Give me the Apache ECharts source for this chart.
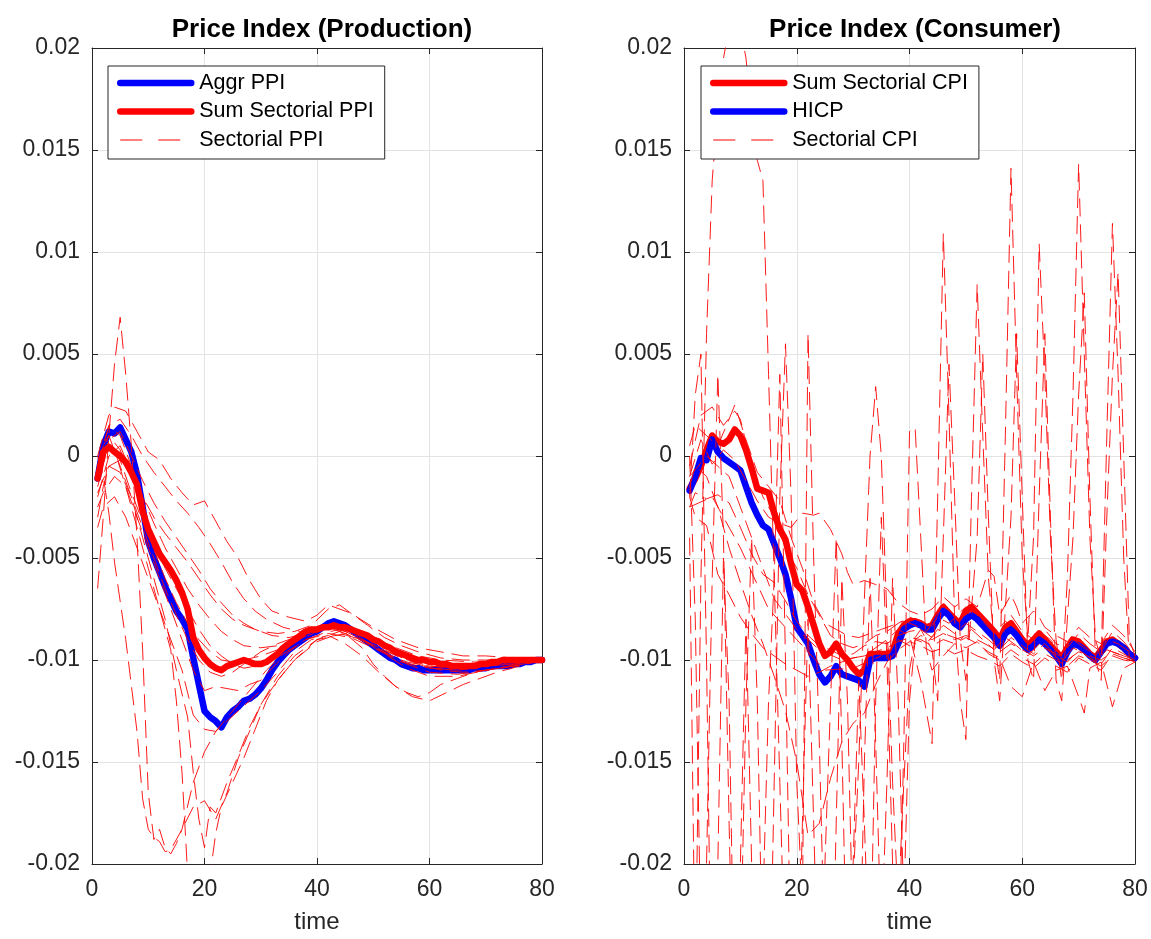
<!DOCTYPE html>
<html>
<head>
<meta charset="utf-8">
<script src="https://cdn.jsdelivr.net/npm/echarts@6/dist/echarts.min.js"></script>
<style>html,body{margin:0;padding:0;background:#fff}#c{width:1151px;height:939px}</style>
</head>
<body>
<div id="c"></div>
<script>
// ---------------- DATA ----------------
const time = [1,2,3,4,5,6,7,8,9,10,11,12,13,14,15,16,17,18,19,20,21,22,23,24,25,26,27,28,29,30,31,32,33,34,35,36,37,38,39,40,41,42,43,44,45,46,47,48,49,50,51,52,53,54,55,56,57,58,59,60,61,62,63,64,65,66,67,68,69,70,71,72,73,74,75,76,77,78,79,80];
const xTicks = [0,20,40,60,80];
const yTicks = [-0.02,-0.015,-0.01,-0.005,0,0.005,0.01,0.015,0.02];

const aggrPPI = [-0.0011,0.0005,0.0012,0.0011,0.0014,0.0008,0.0002,-0.0009,-0.0025,-0.0042,
-0.0050,-0.0057,-0.0064,-0.0070,-0.0076,-0.0080,-0.0085,-0.0099,-0.0112,-0.0125,
-0.0128,-0.0130,-0.0133,-0.0128,-0.0125,-0.0123,-0.0120,-0.0119,-0.0117,-0.0114,
-0.0110,-0.0105,-0.0101,-0.0098,-0.0095,-0.0093,-0.0091,-0.0089,-0.0087,-0.0086,
-0.0084,-0.0082,-0.0081,-0.0082,-0.0083,-0.0085,-0.0087,-0.0089,-0.0091,-0.0093,
-0.0095,-0.0097,-0.0099,-0.0100,-0.0102,-0.0103,-0.0104,-0.0104,-0.0105,-0.0105,
-0.0105,-0.0105,-0.0105,-0.0105,-0.0105,-0.0105,-0.0105,-0.0104,-0.0104,-0.0104,
-0.0103,-0.0103,-0.0103,-0.0103,-0.0102,-0.0102,-0.0101,-0.0101,-0.0100,-0.0100];

const sumPPI = [-0.0011,0.0002,0.00045,0.0002,0.0000,-0.0003,-0.0008,-0.0014,-0.0027,-0.0036,
-0.0042,-0.0048,-0.0052,-0.0056,-0.0061,-0.0067,-0.0075,-0.0089,-0.0095,-0.0099,
-0.0102,-0.0104,-0.0105,-0.0103,-0.0102,-0.0101,-0.0100,-0.0101,-0.0102,-0.0102,
-0.0101,-0.0099,-0.0097,-0.0094,-0.0092,-0.0090,-0.0088,-0.0086,-0.0085,-0.0085,
-0.0084,-0.0084,-0.0083,-0.0084,-0.0084,-0.0085,-0.0086,-0.0087,-0.0088,-0.0090,
-0.0091,-0.0093,-0.0094,-0.0096,-0.0097,-0.0098,-0.0099,-0.0100,-0.0100,-0.0101,
-0.0101,-0.0102,-0.0102,-0.0103,-0.0103,-0.0103,-0.0103,-0.0103,-0.0102,-0.0102,
-0.0101,-0.0101,-0.0100,-0.0100,-0.0100,-0.0100,-0.0100,-0.0100,-0.0100,-0.0100];

const hicp = [-0.0017,-0.0010,-0.0001,-0.0002,0.0008,0.0002,-0.0001,-0.0003,-0.0005,-0.0007,
-0.0015,-0.0023,-0.0029,-0.0034,-0.0036,-0.0043,-0.0050,-0.0058,-0.0070,-0.0084,
-0.0088,-0.0092,-0.0100,-0.0107,-0.0111,-0.0108,-0.0103,-0.0107,-0.0108,-0.0109,
-0.0110,-0.0113,-0.0100,-0.0099,-0.0099,-0.0099,-0.0098,-0.0092,-0.0085,-0.0083,
-0.0082,-0.0083,-0.0085,-0.0085,-0.0080,-0.0076,-0.0078,-0.0082,-0.0084,-0.0080,
-0.0078,-0.0080,-0.0083,-0.0086,-0.0089,-0.0093,-0.0087,-0.0085,-0.0088,-0.0092,
-0.0095,-0.0093,-0.0090,-0.0092,-0.0095,-0.0098,-0.0102,-0.0096,-0.0092,-0.0093,
-0.0095,-0.0098,-0.0100,-0.0096,-0.0092,-0.0091,-0.0092,-0.0094,-0.0097,-0.0099];

const sumCPI = [-0.0016,-0.0011,-0.0005,0.0003,0.0010,0.0007,0.0006,0.0008,0.0013,0.0010,
0.0003,-0.0006,-0.0016,-0.0017,-0.0018,-0.0028,-0.0036,-0.0041,-0.0053,-0.0063,
-0.0066,-0.0074,-0.0083,-0.0092,-0.0098,-0.0096,-0.0092,-0.0097,-0.0100,-0.0104,
-0.0107,-0.0105,-0.0097,-0.0097,-0.0097,-0.0097,-0.0096,-0.0087,-0.0083,-0.0081,
-0.0081,-0.0082,-0.0084,-0.0083,-0.0078,-0.0074,-0.0077,-0.0080,-0.0082,-0.0076,
-0.0074,-0.0077,-0.0080,-0.0083,-0.0086,-0.0090,-0.0084,-0.0082,-0.0086,-0.0090,
-0.0093,-0.0090,-0.0087,-0.0090,-0.0093,-0.0096,-0.0099,-0.0094,-0.0090,-0.0091,
-0.0094,-0.0097,-0.0099,-0.0095,-0.0091,-0.0090,-0.0092,-0.0094,-0.0097,-0.0099];

// sectorial PPI lines: [time, value]
const sectorialPPI = [
 [[1,-0.0065],[2,-0.003],[3,0.001],[4,0.0045],[5,0.0068],[6,0.004],[7,0.0005],[8,-0.004],[9,-0.0095],[10,-0.0165],[11,-0.0188],[12,-0.0183],[13,-0.0192],[14,-0.0195],[15,-0.019],[16,-0.0183],[18,-0.016],[20,-0.0145],[22,-0.0135],[25,-0.0125],[28,-0.0115],[31,-0.0105],[34,-0.0097],[38,-0.009],[42,-0.0087],[46,-0.0089],[50,-0.0094],[55,-0.0101],[60,-0.0104],[65,-0.0105],[70,-0.0103],[75,-0.0102],[80,-0.01]],
 [[1,-0.001],[2,0.0],[3,0.0005],[4,0.0003],[6,-0.0015],[8,-0.0035],[10,-0.0055],[12,-0.0075],[14,-0.0095],[15,-0.012],[16,-0.0155],[17,-0.0205],[18,-0.024],[19,-0.025],[20,-0.0235],[21,-0.0205],[22,-0.0185],[23,-0.0172],[25,-0.016],[27,-0.0148],[29,-0.0134],[31,-0.012],[33,-0.011],[36,-0.01],[40,-0.009],[44,-0.0086],[48,-0.009],[52,-0.0096],[56,-0.0102],[60,-0.0106],[65,-0.0107],[70,-0.0105],[75,-0.0103],[80,-0.01]],
 [[1,0.0],[2,-0.001],[3,-0.0028],[4,-0.0052],[6,-0.009],[8,-0.0135],[9,-0.0168],[10,-0.0183],[11,-0.0187],[12,-0.0189],[13,-0.0194],[14,-0.0193],[16,-0.0183],[18,-0.0172],[20,-0.0169],[22,-0.0178],[24,-0.0165],[26,-0.0148],[28,-0.0135],[30,-0.0122],[33,-0.011],[36,-0.01],[40,-0.0091],[44,-0.0087],[48,-0.009],[52,-0.0097],[56,-0.0104],[60,-0.0108],[65,-0.0108],[70,-0.0105],[75,-0.0103],[80,-0.01]],
 [[1,-0.0005],[3,0.001],[5,-0.0005],[7,-0.002],[9,-0.004],[11,-0.006],[13,-0.008],[15,-0.0105],[17,-0.0128],[18,-0.0155],[19,-0.0178],[20,-0.0192],[21,-0.0172],[22,-0.0175],[24,-0.016],[26,-0.0147],[28,-0.0133],[30,-0.0122],[33,-0.0108],[36,-0.0098],[40,-0.009],[45,-0.0087],[50,-0.0093],[55,-0.0099],[60,-0.0103],[66,-0.0104],[72,-0.0102],[80,-0.01]],
 [[1,0.0],[2,0.001],[3,0.002],[4,0.0024],[6,0.0022],[8,0.0012],[10,0.0002],[12,-0.0002],[14,-0.0011],[16,-0.0018],[18,-0.0024],[20,-0.0022],[22,-0.0032],[24,-0.0042],[26,-0.005],[28,-0.0061],[30,-0.007],[32,-0.0076],[35,-0.0079],[38,-0.0081],[40,-0.0078],[42,-0.0073],[46,-0.0077],[50,-0.0084],[54,-0.009],[58,-0.0094],[62,-0.0096],[66,-0.0098],[70,-0.0098],[75,-0.0099],[80,-0.01]],
 [[1,-0.0005],[2,0.0005],[3,0.0015],[5,0.0018],[7,0.001],[9,0.0],[11,-0.0008],[13,-0.0015],[15,-0.0022],[17,-0.0028],[19,-0.0035],[21,-0.0043],[23,-0.0052],[25,-0.0062],[27,-0.007],[29,-0.0076],[31,-0.008],[34,-0.0084],[37,-0.0086],[40,-0.0085],[43,-0.0082],[46,-0.0084],[50,-0.0089],[54,-0.0094],[58,-0.0098],[62,-0.01],[68,-0.0101],[74,-0.0101],[80,-0.01]],
 [[1,-0.0015],[2,-0.0005],[3,0.0008],[5,0.0012],[7,0.0],[9,-0.0012],[11,-0.0023],[13,-0.0032],[15,-0.004],[17,-0.0048],[19,-0.0056],[21,-0.0065],[23,-0.0072],[25,-0.0078],[27,-0.0082],[29,-0.0085],[32,-0.0088],[35,-0.0089],[38,-0.0087],[41,-0.0084],[44,-0.0083],[47,-0.0086],[50,-0.0091],[54,-0.0096],[58,-0.01],[62,-0.0102],[68,-0.0102],[74,-0.0101],[80,-0.01]],
 [[1,-0.002],[2,-0.001],[3,0.0],[5,0.0005],[7,-0.0008],[9,-0.002],[11,-0.0033],[13,-0.0045],[15,-0.0055],[17,-0.0065],[19,-0.0073],[21,-0.008],[23,-0.0086],[25,-0.009],[27,-0.0093],[30,-0.0094],[33,-0.0093],[36,-0.009],[39,-0.0086],[42,-0.0083],[45,-0.0085],[48,-0.0088],[52,-0.0094],[56,-0.0099],[60,-0.0102],[65,-0.0103],[70,-0.0102],[75,-0.0101],[80,-0.01]],
 [[1,-0.003],[2,-0.0015],[3,-0.0005],[5,-0.0002],[7,-0.0018],[9,-0.0032],[11,-0.0046],[13,-0.006],[15,-0.0072],[17,-0.0082],[19,-0.009],[21,-0.0096],[23,-0.01],[25,-0.0101],[27,-0.01],[30,-0.0098],[33,-0.0095],[36,-0.0091],[39,-0.0087],[42,-0.0084],[45,-0.0086],[48,-0.009],[52,-0.0095],[56,-0.01],[60,-0.0104],[65,-0.0105],[70,-0.0103],[75,-0.0102],[80,-0.01]],
 [[1,-0.0025],[2,-0.0018],[4,-0.001],[6,-0.0015],[8,-0.003],[10,-0.0045],[12,-0.006],[14,-0.0075],[16,-0.009],[18,-0.0105],[20,-0.0115],[22,-0.0113],[24,-0.0114],[26,-0.0115],[28,-0.0112],[30,-0.011],[32,-0.0104],[35,-0.0096],[38,-0.009],[41,-0.0087],[44,-0.0085],[47,-0.0088],[50,-0.0093],[53,-0.0098],[56,-0.0101],[60,-0.0103],[65,-0.0104],[70,-0.0103],[75,-0.0101],[80,-0.01]],
 [[1,-0.0035],[2,-0.0025],[4,-0.002],[6,-0.003],[8,-0.0045],[10,-0.006],[12,-0.0075],[14,-0.009],[16,-0.0105],[18,-0.0127],[20,-0.0134],[22,-0.0135],[24,-0.013],[26,-0.0125],[28,-0.012],[30,-0.0115],[33,-0.0106],[36,-0.0096],[39,-0.009],[42,-0.0088],[45,-0.0092],[48,-0.0098],[51,-0.0106],[54,-0.0113],[57,-0.0118],[60,-0.012],[63,-0.0116],[66,-0.0112],[69,-0.0109],[72,-0.0106],[76,-0.0103],[80,-0.01]],
 [[1,-0.001],[2,0.0005],[3,0.001],[5,0.0003],[7,-0.001],[9,-0.0028],[11,-0.0042],[13,-0.0055],[15,-0.0065],[17,-0.0075],[19,-0.0085],[21,-0.0093],[23,-0.0098],[25,-0.0102],[27,-0.0104],[29,-0.0103],[31,-0.01],[34,-0.0095],[37,-0.009],[40,-0.0086],[43,-0.0082],[46,-0.0084],[49,-0.0088],[52,-0.0093],[55,-0.0098],[58,-0.0102],[62,-0.0105],[66,-0.0106],[70,-0.0105],[75,-0.0103],[80,-0.01]],
 [[1,-0.0005],[3,0.0015],[5,0.001],[7,-0.0005],[9,-0.002],[11,-0.003],[13,-0.0038],[15,-0.0045],[17,-0.0052],[19,-0.006],[21,-0.0068],[23,-0.0075],[25,-0.008],[27,-0.0083],[30,-0.0086],[33,-0.0087],[36,-0.0086],[39,-0.0083],[42,-0.0075],[44,-0.0073],[46,-0.0077],[49,-0.0083],[52,-0.0089],[55,-0.0093],[58,-0.0096],[62,-0.0099],[66,-0.01],[70,-0.01],[75,-0.01],[80,-0.01]],
 [[1,-0.0018],[3,-0.0005],[5,-0.0008],[7,-0.002],[9,-0.0035],[11,-0.005],[13,-0.0065],[15,-0.0078],[17,-0.009],[19,-0.01],[21,-0.0106],[23,-0.0108],[25,-0.0106],[27,-0.0102],[30,-0.0096],[33,-0.0092],[36,-0.0089],[39,-0.0085],[42,-0.0084],[45,-0.0087],[48,-0.0094],[50,-0.0102],[52,-0.0108],[54,-0.0113],[56,-0.0116],[58,-0.0118],[60,-0.0116],[62,-0.0112],[65,-0.0109],[68,-0.0106],[72,-0.0104],[76,-0.0102],[80,-0.01]]
];

// sectorial CPI lines: [time, value]
const sectorialCPI = [
 [[1,-0.0005],[3,0.002],[5,0.0024],[7,0.0015],[9,0.0022],[10,0.0018],[12,-0.0005],[14,-0.002],[16,-0.003],[18,-0.0045],[20,-0.0055],[22,-0.0068],[24,-0.0078],[26,-0.0088],[28,-0.0092],[30,-0.0094],[32,-0.0092],[34,-0.0088],[36,-0.0086],[38,-0.0082],[40,-0.0079],[42,-0.0081],[44,-0.0084],[46,-0.0072],[48,-0.0079],[50,-0.0074],[52,-0.0078],[54,-0.0083],[56,-0.0089],[58,-0.0078],[60,-0.0086],[62,-0.009],[64,-0.0085],[66,-0.0092],[68,-0.0094],[70,-0.0087],[72,-0.0092],[74,-0.0096],[76,-0.0086],[78,-0.0091],[80,-0.0098]],
 [[1,-0.0025],[2,-0.0018],[4,-0.0021],[6,-0.0019],[8,-0.0023],[10,-0.0035],[12,-0.0048],[14,-0.0058],[16,-0.0062],[18,-0.0071],[20,-0.0081],[22,-0.0088],[24,-0.0093],[26,-0.0095],[28,-0.0098],[30,-0.0097],[32,-0.0093],[34,-0.0091],[36,-0.0092],[38,-0.0088],[40,-0.0086],[42,-0.0085],[44,-0.0089],[46,-0.0083],[48,-0.0087],[50,-0.0082],[52,-0.0086],[54,-0.009],[56,-0.0095],[58,-0.0089],[60,-0.0093],[62,-0.0097],[64,-0.0092],[66,-0.0098],[68,-0.0101],[70,-0.0095],[72,-0.0099],[74,-0.0102],[76,-0.0094],[78,-0.0097],[80,-0.01]],
 [[1,-0.002],[2,-0.003],[4,-0.0034],[6,-0.0058],[7,-0.0063],[8,-0.0068],[10,-0.0079],[12,-0.0087],[14,-0.0094],[16,-0.0098],[18,-0.0102],[20,-0.0105],[22,-0.0108],[24,-0.0106],[26,-0.0103],[28,-0.0101],[30,-0.0099],[32,-0.0098],[34,-0.0096],[36,-0.0094],[38,-0.0091],[40,-0.0089],[42,-0.009],[44,-0.0093],[46,-0.009],[48,-0.0092],[50,-0.0089],[52,-0.0092],[54,-0.0096],[56,-0.0099],[58,-0.0113],[60,-0.0118],[62,-0.0101],[64,-0.0115],[66,-0.0105],[68,-0.0103],[70,-0.0118],[71,-0.0126],[72,-0.0104],[74,-0.0101],[76,-0.0123],[78,-0.0104],[80,-0.0101]],
 [[1,-0.001],[3,0.0008],[5,-0.0004],[7,0.0003],[9,-0.0002],[11,-0.0012],[13,-0.0022],[15,-0.003],[17,-0.0033],[19,-0.0035],[21,-0.0028],[23,-0.0029],[24,-0.0028],[26,-0.0036],[28,-0.0048],[29,-0.0057],[30,-0.0063],[32,-0.0061],[34,-0.0063],[36,-0.0065],[38,-0.0072],[40,-0.0076],[42,-0.0078],[44,-0.0075],[46,-0.0069],[48,-0.0074],[50,-0.007],[52,-0.0074],[54,-0.0056],[55,-0.0059],[56,-0.0078],[58,-0.0068],[59,-0.0074],[60,-0.0082],[62,-0.0076],[63,-0.0079],[64,-0.0084],[66,-0.0088],[68,-0.0091],[70,-0.0084],[72,-0.0089],[74,-0.0092],[76,-0.0083],[78,-0.0088],[80,-0.0096]],
 [[1,-0.0015],[2,-0.0005],[4,-0.001],[6,-0.0025],[8,-0.0045],[10,-0.0062],[12,-0.0078],[14,-0.0092],[16,-0.0108],[18,-0.0125],[20,-0.015],[22,-0.0186],[24,-0.018],[26,-0.0158],[28,-0.014],[30,-0.0131],[32,-0.0126],[34,-0.0112],[36,-0.0101],[38,-0.0095],[40,-0.0091],[42,-0.0093],[44,-0.0096],[46,-0.0094],[48,-0.0097],[50,-0.0095],[52,-0.0098],[54,-0.01],[56,-0.0103],[58,-0.0097],[60,-0.0101],[62,-0.0104],[64,-0.0099],[66,-0.0103],[68,-0.0106],[70,-0.0099],[72,-0.0102],[74,-0.0105],[76,-0.0097],[78,-0.0099],[80,-0.0101]],
 [[1,0.0005],[2,0.0015],[4,0.001],[6,0.0005],[8,0.0018],[9,0.0025],[11,0.0008],[13,-0.0008],[15,-0.0015],[17,-0.0022],[19,-0.004],[21,-0.0055],[23,-0.0072],[25,-0.0082],[27,-0.0085],[29,-0.0088],[31,-0.0089],[33,-0.0087],[35,-0.0085],[37,-0.0083],[39,-0.0081],[41,-0.0083],[43,-0.0086],[45,-0.0079],[47,-0.0082],[49,-0.0077],[51,-0.0075],[53,-0.0081],[55,-0.0087],[57,-0.0081],[59,-0.0085],[61,-0.0091],[63,-0.0086],[65,-0.009],[67,-0.0097],[69,-0.009],[71,-0.0094],[73,-0.0098],[75,-0.009],[77,-0.0092],[79,-0.0096],[80,-0.0099]],
 [[1,-0.004],[2,-0.026],[3,-0.006],[4,0.006],[5,0.0135],[6,0.017],[7,0.0195],[8,0.021],[9,0.0215],[10,0.021],[11,0.0195],[12,0.0165],[13,0.0145],[14,0.0135],[15,0.004],[16,-0.006],[17,-0.016],[18,-0.026],[20,-0.03],[22,-0.029],[24,-0.029],[26,-0.028],[28,-0.025],[30,-0.021],[31,-0.015],[32,-0.007],[33,0.0],[34,0.0034],[35,0.0],[36,-0.008],[37,-0.016],[38,-0.022],[39,-0.016],[40,-0.0105],[41,-0.009],[42,-0.0088],[44,-0.009],[46,-0.0087],[48,-0.009],[50,-0.0088],[52,-0.009],[54,-0.0093],[56,-0.0096],[58,-0.0092],[60,-0.0095],[62,-0.0098],[64,-0.0094],[66,-0.0097],[68,-0.01],[70,-0.0096],[72,-0.0098],[74,-0.01],[76,-0.0096],[78,-0.0098],[80,-0.01]],
 [[1,0.0],[2,-0.008],[3,-0.024],[4,-0.02],[5,-0.006],[6,0.004],[7,-0.004],[8,-0.018],[9,-0.03],[10,-0.025],[11,-0.012],[12,-0.004],[13,-0.012],[14,-0.026],[15,-0.03],[16,-0.016],[17,-0.002],[18,0.0055],[19,-0.002],[20,-0.016],[21,-0.022],[22,0.006],[23,-0.005],[24,-0.014],[25,-0.025],[26,-0.03],[27,-0.018],[28,-0.006],[29,-0.012],[30,-0.024],[31,-0.028],[32,-0.015],[33,-0.006],[34,-0.014],[35,-0.024],[36,-0.016],[37,-0.006],[38,-0.012],[39,-0.022],[40,-0.012],[41,-0.009],[43,-0.0092],[45,-0.0085],[47,-0.0088],[49,-0.009],[51,-0.0085],[53,-0.009],[55,-0.0095],[57,-0.0089],[59,-0.0093],[61,-0.0098],[63,-0.0092],[65,-0.0096],[67,-0.0101],[69,-0.0094],[71,-0.0097],[73,-0.0101],[75,-0.0095],[77,-0.0097],[79,-0.01],[80,-0.0101]],
 [[1,-0.002],[2,0.003],[3,0.005],[4,-0.01],[5,-0.03],[6,-0.02],[7,-0.005],[8,-0.012],[9,-0.028],[10,-0.02],[11,-0.008],[12,-0.02],[13,-0.03],[14,-0.022],[15,-0.012],[16,-0.006],[17,0.004],[18,-0.01],[19,-0.026],[20,-0.03],[21,-0.018],[22,-0.008],[23,-0.018],[24,-0.028],[25,-0.02],[26,-0.012],[27,-0.004],[28,-0.014],[29,-0.027],[30,-0.02],[31,-0.011],[32,-0.018],[33,-0.026],[34,-0.012],[35,-0.003],[36,-0.01],[37,-0.02],[38,-0.026],[39,-0.014],[40,0.0012],[41,0.0014],[42,-0.004],[43,-0.0095],[44,-0.0105],[46,-0.0098],[48,-0.0092],[50,-0.0094],[52,-0.0091],[54,-0.0097],[56,-0.01],[58,-0.0095],[60,-0.0099],[62,-0.0102],[64,-0.0097],[66,-0.01],[68,-0.0103],[70,-0.0098],[72,-0.01],[74,-0.0103],[76,-0.0098],[78,-0.01],[80,-0.0101]],
 [[1,-0.001],[4,0.0],[8,-0.001],[12,-0.004],[16,-0.007],[20,-0.0085],[24,-0.0095],[28,-0.01],[32,-0.0098],[36,-0.009],[38,-0.0085],[40,-0.0088],[42,-0.011],[44,-0.0141],[45,-0.002],[46,0.0109],[47,0.002],[48,-0.008],[49,-0.012],[50,-0.0139],[51,-0.002],[52,0.0084],[53,0.001],[54,-0.006],[55,-0.009],[56,-0.011],[57,0.001],[58,0.0141],[59,0.004],[60,-0.005],[61,-0.009],[62,-0.004],[63,0.0104],[64,0.004],[65,-0.004],[66,-0.009],[67,-0.011],[68,-0.006],[69,0.003],[70,0.0143],[71,0.005],[72,-0.004],[73,-0.009],[74,-0.01],[75,0.001],[76,0.0114],[77,0.004],[78,-0.005],[79,-0.01],[80,-0.01]],
 [[1,-0.0025],[5,-0.002],[10,-0.0045],[15,-0.0075],[20,-0.009],[25,-0.0105],[30,-0.0104],[35,-0.0098],[38,-0.009],[40,-0.0093],[42,-0.0085],[44,-0.0095],[45,-0.012],[46,-0.004],[47,0.0045],[48,-0.002],[49,-0.009],[50,-0.011],[52,-0.004],[53,0.005],[54,-0.003],[55,-0.01],[56,-0.012],[58,-0.003],[59,0.006],[60,-0.002],[61,-0.01],[62,-0.011],[63,-0.002],[64,0.006],[65,-0.003],[66,-0.011],[67,-0.012],[69,-0.004],[70,0.003],[71,0.008],[72,-0.002],[73,-0.01],[74,-0.011],[75,-0.003],[76,0.004],[77,0.009],[78,0.0],[79,-0.009],[80,-0.0098]]
];

// ---------------- CHART ----------------
const FONT = '"Liberation Sans", Arial, Helvetica, sans-serif';
const AX = '#262626';
const chart = echarts.init(document.getElementById('c'), null, {renderer: 'canvas'});

function pairs(ts, vs) { return ts.map((t, i) => [t, vs[i]]); }
function yFmt(v) { return String(parseFloat(Number(v).toFixed(4))); }

const grids = [
  {left: 92, top: 48, width: 450, height: 820},
  {left: 684, top: 48, width: 451, height: 820}
];

const xAxes = [], yAxes = [];
[0, 1].forEach(g => {
  xAxes.push({gridIndex: g, type: 'value', min: xTicks[0], max: xTicks[xTicks.length - 1], interval: 20, position: 'bottom',
    axisLine: {show: true, onZero: false, lineStyle: {color: AX, width: 1}},
    axisTick: {show: true, inside: true, length: 6, lineStyle: {color: AX}},
    axisLabel: {fontSize: 23, color: AX, margin: 14, fontFamily: FONT},
    splitLine: {show: true, lineStyle: {color: '#e3e3e3', width: 1}},
    name: 'time', nameLocation: 'middle', nameGap: 46,
    nameTextStyle: {fontSize: 24, color: AX, fontFamily: FONT}});
  xAxes.push({gridIndex: g, type: 'value', min: 0, max: 80, interval: 20, position: 'top',
    axisLine: {show: true, onZero: false, lineStyle: {color: AX, width: 1}},
    axisTick: {show: true, inside: true, length: 6, lineStyle: {color: AX}},
    axisLabel: {show: false}, splitLine: {show: false}});
  yAxes.push({gridIndex: g, type: 'value', min: yTicks[0], max: yTicks[yTicks.length - 1], interval: 0.005, position: 'left',
    axisLine: {show: true, onZero: false, lineStyle: {color: AX, width: 1}},
    axisTick: {show: true, inside: true, length: 6, lineStyle: {color: AX}},
    axisLabel: {fontSize: 23, color: AX, margin: 12, fontFamily: FONT, formatter: yFmt},
    splitLine: {show: true, lineStyle: {color: '#e3e3e3', width: 1}}});
  yAxes.push({gridIndex: g, type: 'value', min: -0.02, max: 0.02, interval: 0.005, position: 'right',
    axisLine: {show: true, onZero: false, lineStyle: {color: AX, width: 1}},
    axisTick: {show: true, inside: true, length: 6, lineStyle: {color: AX}},
    axisLabel: {show: false}, splitLine: {show: false}});
});

const series = [];
function thick(name, data, color, g) {
  series.push({type: 'line', name, data, xAxisIndex: g * 2, yAxisIndex: g * 2, symbol: 'none', showSymbol: false, silent: true,
    lineStyle: {color, width: 6.5, cap: 'round', join: 'round'}, itemStyle: {color}, emphasis: {disabled: true}});
}
function thin(name, data, g) {
  series.push({type: 'line', name, data, xAxisIndex: g * 2, yAxisIndex: g * 2, symbol: 'none', showSymbol: false, silent: true,
    lineStyle: {color: '#ff0000', width: 0.9, type: [18, 8]}, itemStyle: {color: '#ff0000'}, emphasis: {disabled: true}});
}
thick('Aggr PPI', pairs(time, aggrPPI), '#0000ff', 0);
thick('Sum Sectorial PPI', pairs(time, sumPPI), '#ff0000', 0);
sectorialPPI.forEach(d => thin('Sectorial PPI', d, 0));
thick('Sum Sectorial CPI', pairs(time, sumCPI), '#ff0000', 1);
thick('HICP', pairs(time, hicp), '#0000ff', 1);
sectorialCPI.forEach(d => thin('Sectorial CPI', d, 1));

function legendAt(left, names) {
  return {left, top: 66, orient: 'vertical', selectedMode: false,
    data: [names[0], names[1], {name: names[2], lineStyle: {type: [22, 16], width: 1}}],
    itemWidth: 71, itemHeight: 14, itemGap: 6.5, padding: [6, 11, 8, 9],
    borderColor: AX, borderWidth: 1, backgroundColor: '#ffffff',
    lineStyle: {width: 'inherit'},
    itemStyle: {opacity: 0},
    textStyle: {fontSize: 21.5, color: '#000', fontFamily: FONT, padding: [0, 0, 0, 3]}};
}

chart.setOption({
  animation: false,
  backgroundColor: '#ffffff',
  title: [
    {text: 'Price Index (Production)', left: 317, top: 12, textAlign: 'center',
     textStyle: {fontSize: 26, fontWeight: 'bold', color: '#000', fontFamily: FONT}},
    {text: 'Price Index (Consumer)', left: 910, top: 12, textAlign: 'center',
     textStyle: {fontSize: 26, fontWeight: 'bold', color: '#000', fontFamily: FONT}}
  ],
  legend: [
    legendAt(108, ['Aggr PPI', 'Sum Sectorial PPI', 'Sectorial PPI']),
    legendAt(701, ['Sum Sectorial CPI', 'HICP', 'Sectorial CPI'])
  ],
  grid: grids,
  xAxis: xAxes,
  yAxis: yAxes,
  series
});
</script>
</body>
</html>
